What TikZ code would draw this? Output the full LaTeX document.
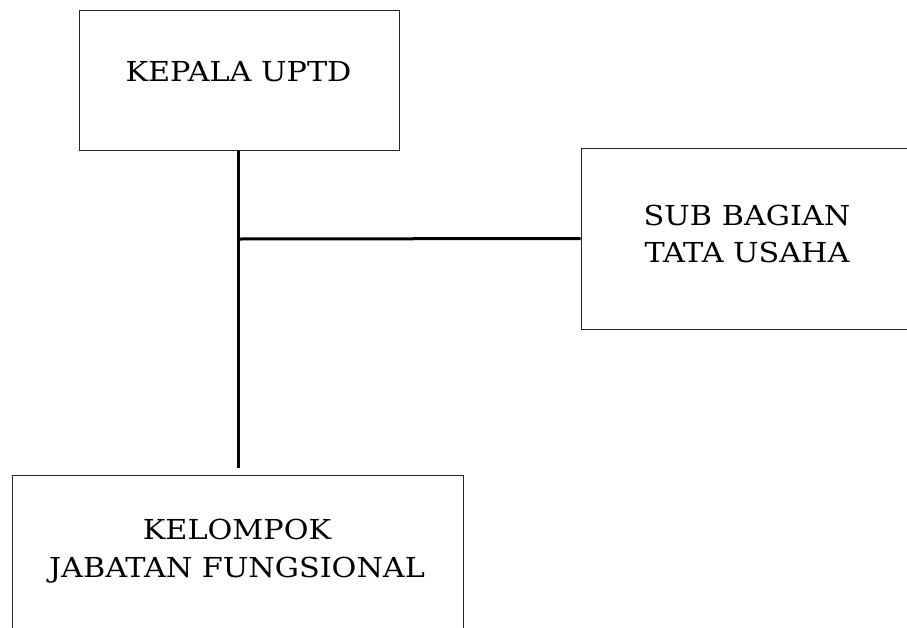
\documentclass[tikz,border=0pt]{standalone}
\usepackage{fontspec}
\setmainfont{DejaVu Serif}[FakeStretch=1.1]
\begin{document}
\begin{tikzpicture}[x=1pt,y=-1pt,
  box/.style={draw=black!85, line width=1pt, rectangle, inner sep=0pt},
  lbl/.style={inner sep=0pt, align=center, font=\fontsize{27.5}{37.5}\selectfont},
  conn/.style={line width=3pt, black}]
\clip (0,0) rectangle (907,627);
\useasboundingbox (0,0) rectangle (907,627);
\node[box, minimum width=320pt, minimum height=140pt] (kepala) at (239,80) {};
\node[lbl] (kepalaT) at (238.5,72) {KEPALA UPTD};
\node[box, minimum width=380pt, minimum height=181pt] (tu) at (771,238.5) {};
\node[lbl] (tuT) at (747,234) {SUB BAGIAN\\TATA USAHA};
\node[box, minimum width=451pt, minimum height=160pt] (kjf) at (237.5,555) {};
\node[lbl] (kjfT) at (237,551) {KELOMPOK\\JABATAN FUNGSIONAL};
\coordinate (j) at (238,239);
\coordinate (e) at (238,468);
\draw[conn] (kepala.south -| j) -- (e);
\draw[conn] (j) -- (tu.west);
\end{tikzpicture}
\end{document}
